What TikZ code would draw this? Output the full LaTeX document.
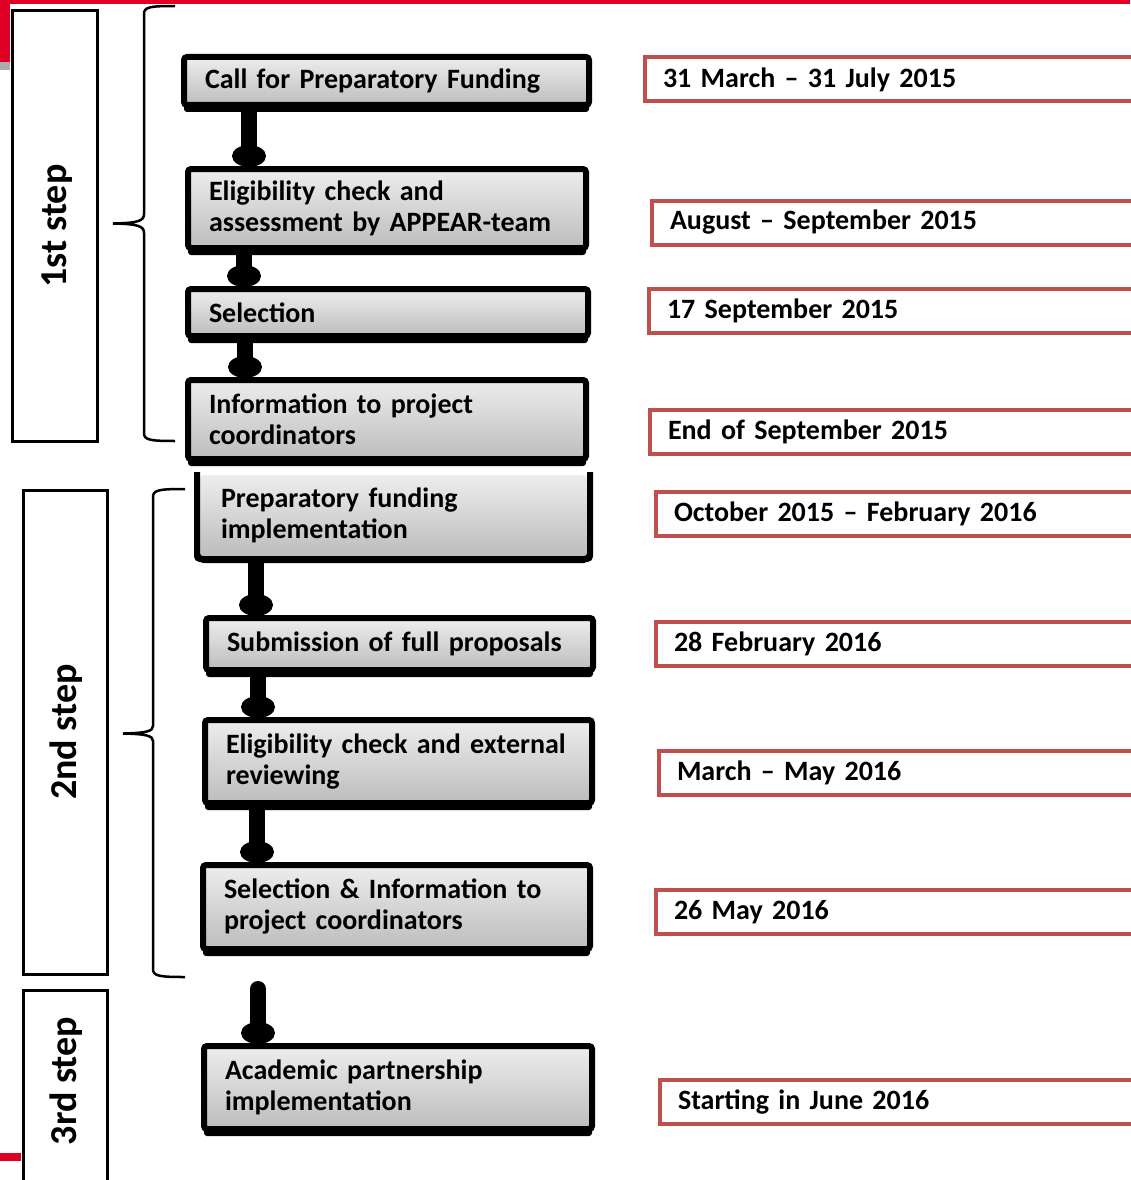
\documentclass[tikz,border=0pt]{standalone}
\usepackage{fontspec}
\setmainfont{Carlito}
\usetikzlibrary{arrows.meta,shadows}
\definecolor{slidered}{RGB}{224,0,36}
\definecolor{dateline}{RGB}{192,80,77}
\tikzset{
  stage/.style={draw=black, line width=6pt, rounded corners=3pt,
    top color=gray!14, bottom color=gray!52,
    drop shadow={shadow xshift=0pt, shadow yshift=-7pt, fill=black, opacity=1},
    inner xsep=21pt, inner ysep=0pt, align=left,
    font=\bfseries\fontsize{28}{31}\selectfont},
  datebox/.style={draw=dateline, line width=4pt, anchor=west,
    minimum width=600pt, text width=564pt, inner xsep=18pt,
    minimum height=44pt, align=left,
    font=\bfseries\fontsize{28}{31}\selectfont},
  steplabel/.style={rotate=90, font=\bfseries\fontsize{38}{40}\selectfont},
  stepframe/.style={line width=3pt},
  brace/.style={line width=2.5pt},
  flow/.style={line width=16pt,
    -{Ellipse[width=34pt,length=22pt,line width=0pt,sep=-10pt]Triangle[width=28pt,length=9pt,line width=0pt]}}
}
\begin{document}
\begin{tikzpicture}[x=1pt, y=-1pt]
    \useasboundingbox (0,0) rectangle (1130,1180);

    % slide decoration
    \fill[slidered] (10,0) rectangle (1130,4.5);
    \fill[slidered] (0,0) rectangle (10,62);
    \fill[gray!65] (0,62) rectangle (10,70);
    \fill[slidered] (0,1153) rectangle (21,1161);

    % step frames and labels
    \draw[stepframe] (12.5,10.5) rectangle (97.5,441.5);
    \draw[stepframe] (23.5,490.5) rectangle (107.5,974);
    \draw[stepframe] (23.5,1185) -- (23.5,990.5) -- (107.5,990.5) -- (107.5,1185);
    \node[steplabel] (first) at (57,226) {1st step};
    \node[steplabel] (second) at (66,732) {2nd step};
    \node[steplabel] (third) at (66,1081) {3rd step};

    % braces
    \draw[brace] (175,6) .. controls (150,6) and (144,7) .. (144,14) -- (144,214)
        .. controls (144,221) and (138,223) .. (113,223.5)
        .. controls (138,224) and (144,226) .. (144,233) -- (144,433)
        .. controls (144,440) and (150,441) .. (175,441);
    \draw[brace] (185,489) .. controls (159,489) and (153,490) .. (153,497) -- (153,726)
        .. controls (153,731) and (147,733) .. (123,733.5)
        .. controls (147,734) and (153,736) .. (153,741) -- (153,969)
        .. controls (153,976) and (159,977) .. (185,977);

    % stages
    \node[stage, text width=363pt, minimum height=48pt] (call) at (386.5,81) {Call for Preparatory Funding};
    \node[stage, text width=356pt, minimum height=79pt] (elig) at (387,208.5) {Eligibility check and\\assessment by APPEAR-team};
    \node[stage, text width=358pt, minimum height=47pt] (sel) at (388,312.5) {Selection};
    \node[stage, text width=356pt, minimum height=79pt] (info) at (387,419.5) {Information to project\\coordinators};
    \node[stage, draw=none, text width=345pt, minimum height=81pt] (prep) at (393.5,515.5) {Preparatory funding\\implementation};
    \draw[line width=6pt, rounded corners=3pt] (prep.north west) -- (prep.south west) -- (prep.south east) -- (prep.north east);
    \node[stage, text width=345pt, minimum height=52pt] (subm) at (399.5,644) {Submission of full proposals};
    \node[stage, text width=345pt, minimum height=83pt] (review) at (398.5,761.5) {Eligibility check and external\\reviewing};
    \node[stage, text width=345pt, minimum height=84pt] (selinfo) at (396.5,907) {Selection \& Information to\\project coordinators};
    \node[stage, text width=346pt, minimum height=83pt] (acad) at (398,1087.5) {Academic partnership\\implementation};

    % flow
    \draw[flow] ([xshift=68pt]call.south west) -- ([xshift=64pt]elig.north west);
    \draw[flow] ([xshift=59pt]elig.south west) -- ([xshift=59pt]sel.north west);
    \draw[flow] ([xshift=60pt]sel.south west) -- ([xshift=60pt]info.north west);
    \draw[flow] ([xshift=59pt]prep.south west) -- ([xshift=53pt]subm.north west);
    \draw[flow] ([xshift=55pt]subm.south west) -- ([xshift=56pt]review.north west);
    \draw[flow] ([xshift=55pt]review.south west) -- ([xshift=57pt]selinfo.north west);
    \coordinate (start3) at (258,989);
    \draw[flow, line cap=round] (start3) -- ([xshift=57pt]acad.north west);

    % dates
    \node[datebox] (d1) at (643,79.5) {31 March – 31 July 2015};
    \node[datebox] (d2) at (650,222.5) {August – September 2015};
    \node[datebox] (d3) at (647,310.5) {17 September 2015};
    \node[datebox] (d4) at (648,432) {End of September 2015};
    \node[datebox] (d5) at (654,513.5) {October 2015 – February 2016};
    \node[datebox] (d6) at (654,644) {28 February 2016};
    \node[datebox] (d7) at (657,773) {March – May 2016};
    \node[datebox] (d8) at (654,912) {26 May 2016};
    \node[datebox] (d9) at (658,1102) {Starting in June 2016};
\end{tikzpicture}
\end{document}
